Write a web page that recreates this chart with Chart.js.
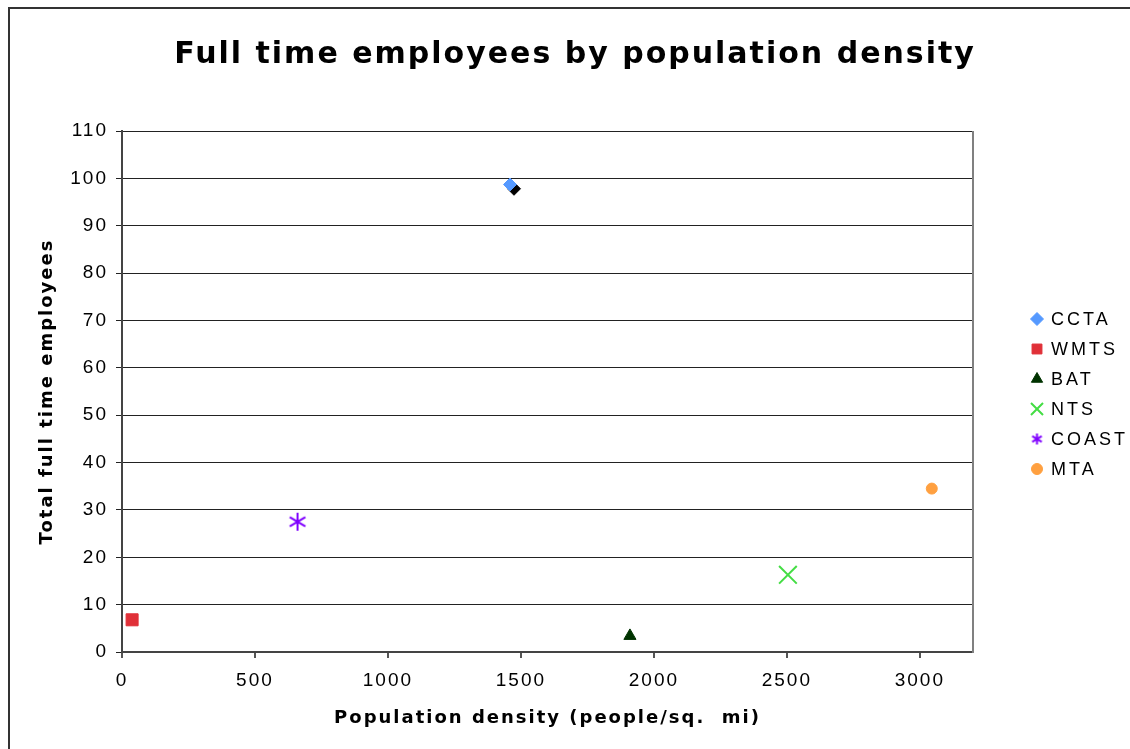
<!DOCTYPE html>
<html>
<head>
<meta charset="utf-8">
<script src="https://cdn.jsdelivr.net/npm/chart.js@4"></script>
<style>
  html, body { margin: 0; padding: 0; background: #fff; }
  #wrap { position: relative; width: 1130px; height: 749px; overflow: hidden; }
  #frame { position: absolute; left: 8px; top: 7px; width: 1200px; height: 800px; border: 2px solid #333; box-sizing: border-box; pointer-events: none; }
  canvas { position: absolute; left: 0; top: 0; }
</style>
</head>
<body>
<div id="wrap">
  <canvas id="c" width="1130" height="749"></canvas>
  <div id="frame"></div>
</div>
<script>
const seriesNames = ["CCTA", "WMTS", "BAT", "NTS", "COAST", "MTA"];
const densityX = [1459, 38, 1910, 2504, 660, 3045];
const employeesY = [98.7, 6.8, 3.4, 16.3, 27.5, 34.5];
const extraPointX = [1474];
const extraPointY = [97.8];
const seriesColors = ["#5599FF", "#E03038", "#003300", "#44DD44", "#7F00FF", "#FFA040"];
const xTicks = [0, 500, 1000, 1500, 2000, 2500, 3000];
const yTicks = [0, 10, 20, 30, 40, 50, 60, 70, 80, 90, 100, 110];

function asterisk(color, size, lw) {
  const cv = document.createElement('canvas');
  cv.width = size; cv.height = size;
  const g = cv.getContext('2d');
  g.strokeStyle = color; g.lineWidth = lw;
  const m = size / 2, r = size / 2 - 1;
  g.beginPath();
  g.moveTo(m, m - r); g.lineTo(m, m + r);
  const d = r * 0.87;
  g.moveTo(m - d, m - d * 0.6); g.lineTo(m + d, m + d * 0.6);
  g.moveTo(m + d, m - d * 0.6); g.lineTo(m - d, m + d * 0.6);
  g.stroke();
  return cv;
}

const styles = ['rectRot', 'rect', 'triangle', 'crossRot', asterisk(seriesColors[4], 20, 2), 'circle'];
const radii = [6.5, 8.5, 7, 12.5, 10, 5.5];
const legendStyles = ['rectRot', 'rect', 'triangle', 'crossRot', asterisk(seriesColors[4], 13, 2), 'circle'];
const legendRadii = [6.5, 7, 6.5, 8.5, 7, 5.5];

const datasets = seriesNames.map((n, i) => ({
  label: n,
  data: [{x: densityX[i], y: employeesY[i]}],
  pointStyle: styles[i],
  pointRadius: radii[i],
  pointHoverRadius: radii[i],
  backgroundColor: seriesColors[i],
  borderColor: seriesColors[i],
  pointBorderWidth: (i === 3) ? 2 : 1,
  showLine: false
}));
datasets.push({
  label: "_extra",
  data: extraPointX.map((x, i) => ({x: x, y: extraPointY[i]})),
  pointStyle: 'rectRot',
  pointRadius: 6.5,
  pointHoverRadius: 6.5,
  backgroundColor: '#000000',
  borderColor: '#000000',
  showLine: false
});

const spacing = {
  id: 'spacing',
  beforeUpdate(chart) { chart.ctx.letterSpacing = '2px'; },
  beforeLayout(chart) { chart.ctx.letterSpacing = '2px'; },
  beforeDraw(chart) { chart.ctx.letterSpacing = '2px'; }
};

const legendPlugin = {
  id: 'sideLegend',
  afterDraw(chart) {
    const ctx = chart.ctx;
    ctx.save();
    const x0 = 1037, y0 = 319, step = 30;
    seriesNames.forEach((n, i) => {
      const y = y0 + i * step;
      ctx.fillStyle = seriesColors[i];
      ctx.strokeStyle = seriesColors[i];
      ctx.lineWidth = (i === 3) ? 2 : 1;
      if (Chart.helpers && Chart.helpers.drawPoint) {
        Chart.helpers.drawPoint(ctx, { pointStyle: legendStyles[i], radius: legendRadii[i], borderWidth: ctx.lineWidth, rotation: 0 }, x0, y);
      } else {
        ctx.beginPath(); ctx.arc(x0, y, 5, 0, Math.PI * 2); ctx.fill();
      }
      ctx.letterSpacing = '3px';
      ctx.fillStyle = '#000';
      ctx.font = '18px "Liberation Sans", Arial, sans-serif';
      ctx.textBaseline = 'middle';
      ctx.textAlign = 'left';
      ctx.fillText(n, 1051, y + 1);
    });
    ctx.restore();
  }
};

const rightBorder = {
  id: 'rightBorder',
  afterDraw(chart) {
    const a = chart.chartArea, ctx = chart.ctx;
    ctx.save();
    ctx.strokeStyle = '#808080'; ctx.lineWidth = 2;
    ctx.beginPath(); ctx.moveTo(a.right, a.top); ctx.lineTo(a.right, a.bottom + 1); ctx.stroke();
    ctx.restore();
  }
};

new Chart(document.getElementById('c'), {
  type: 'scatter',
  data: { datasets: datasets },
  options: {
    responsive: false,
    animation: false,
    layout: { padding: { left: 20, right: 0, top: 37, bottom: 0 } },
    plugins: {
      title: {
        display: true,
        text: 'Full time employees by population density',
        font: { family: 'DejaVu Sans', size: 30, weight: 'bold' },
        color: '#000',
        padding: { top: 0, bottom: 58 }
      },
      legend: { display: false },
      tooltip: { enabled: false }
    },
    scales: {
      x: {
        type: 'linear',
        min: 0, max: 3200,
        afterBuildTicks: (s) => { s.ticks = xTicks.map(v => ({value: v})); },
        afterFit: (s) => { s.height = 97; },
        ticks: { color: '#000', font: { family: 'Liberation Sans', size: 19 }, padding: 11, maxRotation: 0, callback: (v) => String(v) },
        grid: { display: true, drawOnChartArea: false, drawTicks: true, tickLength: 6, color: '#555', lineWidth: 2 },
        border: { display: true, color: '#444', width: 2 },
        title: {
          display: true,
          text: 'Population density (people/sq.  mi)',
          font: { family: 'DejaVu Sans', size: 18, weight: 'bold' },
          color: '#000',
          padding: { top: 0, bottom: 20 }
        }
      },
      y: {
        type: 'linear',
        min: 0, max: 110,
        afterBuildTicks: (s) => { s.ticks = yTicks.map(v => ({value: v})); },
        afterFit: (s) => { s.width = 102; },
        ticks: { color: '#000', font: { family: 'Liberation Sans', size: 19 }, padding: 8, callback: (v) => String(v) },
        grid: { color: '#222', lineWidth: 1, tickLength: 6 },
        border: { display: true, color: '#444', width: 2 },
        title: {
          display: true,
          text: 'Total full time employees',
          font: { family: 'DejaVu Sans', size: 18, weight: 'bold' },
          color: '#000',
          padding: { top: 17, bottom: 0 }
        }
      },
      legendSpace: {
        type: 'linear',
        position: 'right',
        display: true,
        afterFit: (s) => { s.width = 157; },
        ticks: { display: false },
        grid: { display: false, drawTicks: false },
        border: { display: false },
        title: { display: false }
      }
    }
  },
  plugins: [spacing, rightBorder, legendPlugin]
});
</script>
</body>
</html>
